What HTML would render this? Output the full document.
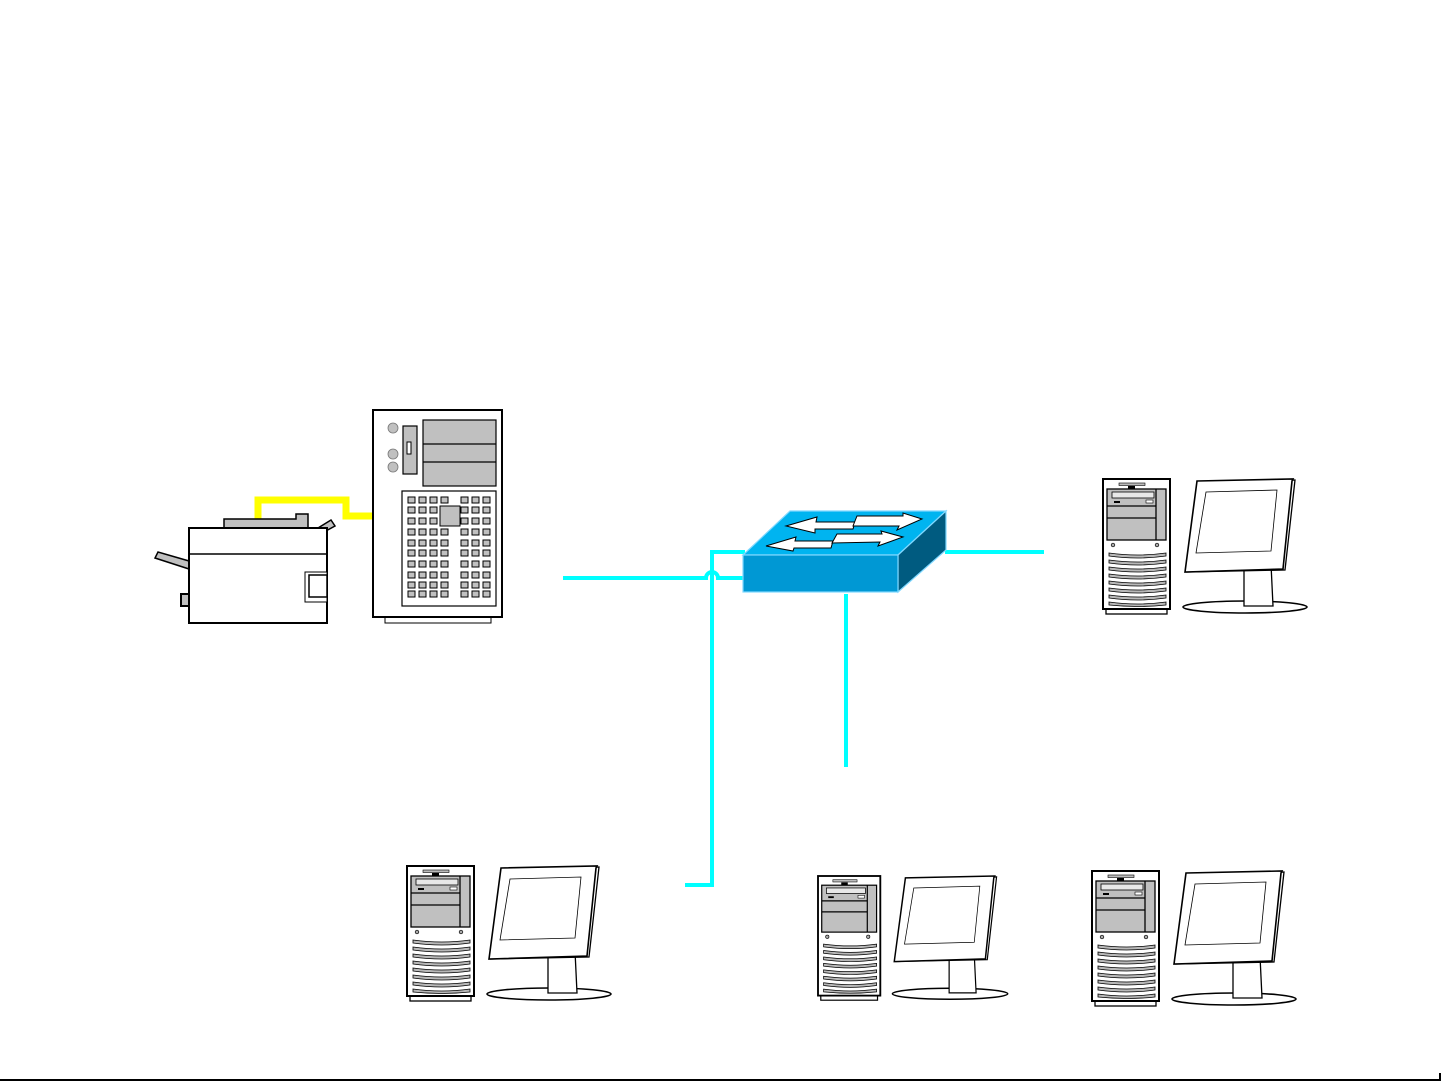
<!DOCTYPE html>
<html><head><meta charset="utf-8"><style>html,body{margin:0;padding:0;background:#fff}svg{display:block}</style></head>
<body>
<svg width="1441" height="1081" viewBox="0 0 1441 1081" xmlns="http://www.w3.org/2000/svg">
<defs>
<g id="ws" stroke="#000" stroke-width="1.3">
  <rect x="3" y="130" width="61" height="5" fill="#fff"/>
  <rect x="0" y="0" width="67" height="130" fill="#fff" stroke-width="2"/>
  <rect x="16" y="4" width="26" height="2.5" fill="#bbb" stroke-width="0.6"/>
  <rect x="25" y="7" width="7" height="3" fill="#000" stroke="none"/>
  <rect x="4" y="10" width="59" height="51" fill="#c0c0c0" stroke-width="1.3"/>
  <line x1="53" y1="10" x2="53" y2="61"/>
  <rect x="9" y="13" width="42" height="6" fill="#e8e8e8" stroke-width="0.8"/>
  <rect x="11" y="22" width="6" height="2" fill="#000" stroke="none"/>
  <rect x="43" y="21" width="7" height="3" fill="#fff" stroke-width="0.6"/>
  <line x1="4" y1="27" x2="53" y2="27"/>
  <line x1="4" y1="39" x2="53" y2="39"/>
  <circle cx="10" cy="66" r="1.8" fill="#aaa" stroke-width="0.7"/>
  <circle cx="54" cy="66" r="1.8" fill="#aaa" stroke-width="0.7"/>
  <g fill="#b8b8b8" stroke-width="0.8">
    <path d="M6 74 Q35 78 63 74 L63 77 Q35 81 6 77Z"/>
    <path d="M6 81 Q35 85 63 81 L63 84 Q35 88 6 84Z"/>
    <path d="M6 88 Q35 92 63 88 L63 91 Q35 95 6 91Z"/>
    <path d="M6 95 Q35 99 63 95 L63 98 Q35 102 6 98Z"/>
    <path d="M6 102 Q35 106 63 102 L63 105 Q35 109 6 105Z"/>
    <path d="M6 109 Q35 113 63 109 L63 112 Q35 116 6 112Z"/>
    <path d="M6 116 Q35 120 63 116 L63 119 Q35 123 6 119Z"/>
    <path d="M6 123 Q35 127 63 123 L63 126 Q35 129 6 126Z"/>
  </g>
  <ellipse cx="142" cy="128" rx="62" ry="6" fill="#fff" stroke-width="1.6"/>
  <path d="M141 85 L168 85 L170 127 L141 127Z" fill="#fff"/>
  <path d="M97 3 L192 1 L182 91 L84 93Z" fill="#fff"/>
  <path d="M94 2 L190 0 L189 2 L180 90 L82 93Z" fill="#fff" stroke-width="1.6"/>
  <path d="M103 13 L174 11 L168 72 L93 74Z" fill="#fff" stroke-width="0.8"/>
</g>
</defs>

<!-- cyan links -->
<g stroke="#00ffff" stroke-width="4" fill="none">
  <path d="M563 578 L706 578 A6 6 0 0 1 718 578 L745 578"/>
  <path d="M745 552 L712 552 L712 885 L685 885"/>
  <path d="M945 552 L1044 552"/>
  <path d="M846 594 L846 767"/>
</g>

<!-- switch -->
<g stroke="#7fd8ff" stroke-width="1.2">
  <path d="M743 555 L790 511 L946 511 L898 555Z" fill="#00b4f0"/>
  <path d="M898 555 L946 511 L946 550 L898 592Z" fill="#005b80"/>
  <rect x="743" y="555" width="155" height="37" fill="#0098d4"/>
</g>
<g fill="#fff" stroke="#000" stroke-width="1">
  <path d="M786 526 L817 517 L816 522 L855 522 L853 529 L815 529 L815 533Z"/>
  <path d="M857 516 L903 516 L903 513 L922 519 L897 530 L899 526 L853 526Z"/>
  <path d="M766 546 L796 537 L795 541 L833 541 L831 548 L794 548 L793 551Z"/>
  <path d="M837 534 L882 534 L881 531 L903 537 L878 546 L880 542 L832 543Z"/>
</g>

<!-- yellow cable -->
<path d="M258 528 L258 500 L346 500 L346 516 L374 516" stroke="#ffff00" stroke-width="7" fill="none"/>

<!-- printer -->
<g stroke="#000" stroke-width="2">
  <path d="M224 528 L224 519 L296 519 L296 514 L308 514 L308 528Z" fill="#c0c0c0" stroke-width="1.5"/>
  <path d="M318 528 L331 520 L335 526 L324 532Z" fill="#c0c0c0" stroke-width="1.5"/>
  <path d="M189 569 L155 558 L158 552 L189 561Z" fill="#c0c0c0" stroke-width="1.5"/>
  <rect x="181" y="594" width="8" height="12" fill="#c0c0c0"/>
  <rect x="189" y="528" width="138" height="95" fill="#fff"/>
  <line x1="189" y1="554" x2="327" y2="554" stroke-width="1.5"/>
  <rect x="305" y="572" width="22" height="30" fill="#fff" stroke-width="1"/>
  <rect x="309" y="575" width="18" height="22" fill="#fff" stroke-width="1.5"/>
</g>

<!-- server -->
<g stroke="#000">
  <rect x="385" y="617" width="106" height="6" fill="#fff" stroke-width="1"/>
  <rect x="373" y="410" width="129" height="207" fill="#fff" stroke-width="2"/>
  <rect x="423" y="420" width="73" height="66" fill="#c0c0c0" stroke-width="1.2"/>
  <line x1="423" y1="444" x2="496" y2="444" stroke-width="1.2"/>
  <line x1="423" y1="462" x2="496" y2="462" stroke-width="1.2"/>
  <rect x="403" y="426" width="14" height="48" fill="#c0c0c0" stroke-width="1.2"/>
  <rect x="407" y="442" width="4" height="12" fill="#fff" stroke-width="1"/>
  <circle cx="393" cy="428" r="5" fill="#c0c0c0" stroke="#777" stroke-width="0.8"/>
  <circle cx="393" cy="454" r="5" fill="#c0c0c0" stroke="#777" stroke-width="0.8"/>
  <circle cx="393" cy="467" r="5" fill="#c0c0c0" stroke="#777" stroke-width="0.8"/>
  <rect x="402" y="491" width="94" height="115" fill="#fff" stroke-width="1.2"/>
  <g fill="#c0c0c0" stroke-width="1">
    <rect x="408" y="497" width="7" height="6"/><rect x="419" y="497" width="7" height="6"/><rect x="430" y="497" width="7" height="6"/><rect x="441" y="497" width="7" height="6"/>
    <rect x="461" y="497" width="7" height="6"/><rect x="472" y="497" width="7" height="6"/><rect x="483" y="497" width="7" height="6"/>
    <rect x="408" y="507" width="7" height="6"/><rect x="419" y="507" width="7" height="6"/><rect x="430" y="507" width="7" height="6"/>
    <rect x="461" y="507" width="7" height="6"/><rect x="472" y="507" width="7" height="6"/><rect x="483" y="507" width="7" height="6"/>
    <rect x="408" y="518" width="7" height="6"/><rect x="419" y="518" width="7" height="6"/><rect x="430" y="518" width="7" height="6"/>
    <rect x="461" y="518" width="7" height="6"/><rect x="472" y="518" width="7" height="6"/><rect x="483" y="518" width="7" height="6"/>
    <rect x="440" y="506" width="20" height="20"/>
  </g>
  <g fill="#c0c0c0" stroke-width="1">
    <g id="row"><rect x="408" y="529" width="7" height="6"/><rect x="419" y="529" width="7" height="6"/><rect x="430" y="529" width="7" height="6"/><rect x="441" y="529" width="7" height="6"/><rect x="461" y="529" width="7" height="6"/><rect x="472" y="529" width="7" height="6"/><rect x="483" y="529" width="7" height="6"/></g>
    <use href="#row" y="11"/><use href="#row" y="21"/><use href="#row" y="32"/><use href="#row" y="43"/><use href="#row" y="53"/><use href="#row" y="62"/>
  </g>
</g>

<!-- workstations -->
<use href="#ws" transform="translate(1103,479)"/>
<use href="#ws" transform="translate(407,866)"/>
<use href="#ws" transform="translate(818,876) scale(0.93,0.92)"/>
<use href="#ws" transform="translate(1092,871)"/>

<!-- bottom border -->
<rect x="0" y="1079" width="1441" height="2" fill="#000"/>
<rect x="1439" y="1073" width="2" height="8" fill="#000"/>
</svg>
</body></html>
